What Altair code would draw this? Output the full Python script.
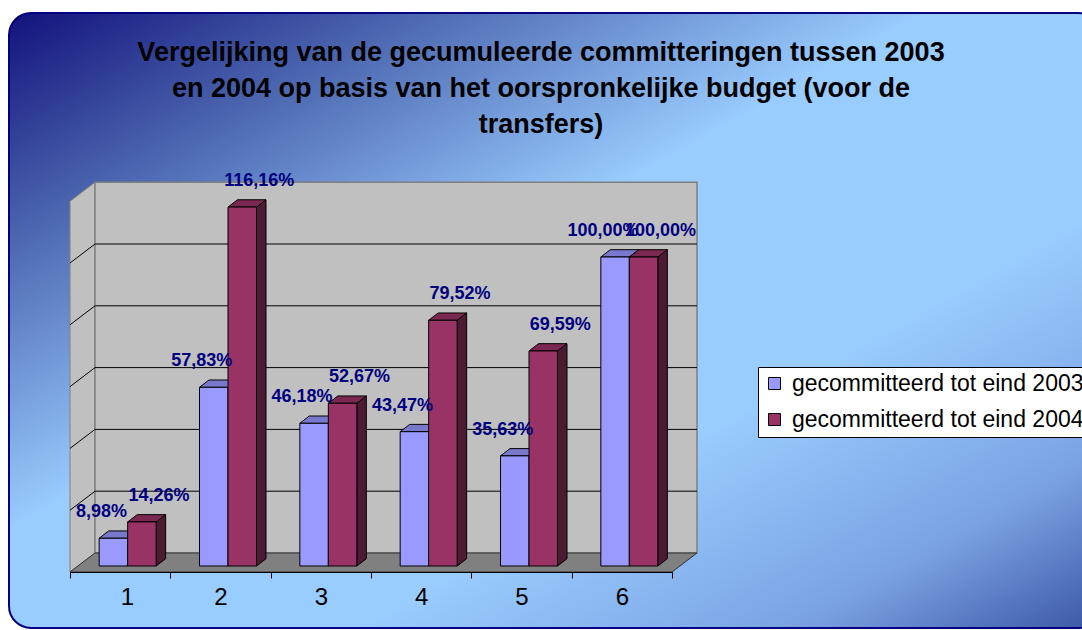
import altair as alt
import pandas as pd

# ---------------- data ----------------
categories = [1, 2, 3, 4, 5, 6]
series_names = ["gecommitteerd tot eind 2003", "gecommitteerd tot eind 2004"]
values_2003 = [8.98, 57.83, 46.18, 43.47, 35.63, 100.00]
values_2004 = [14.26, 116.16, 52.67, 79.52, 69.59, 100.00]
grid_values = [0, 20, 40, 60, 80, 100, 120]
title_lines = [
    "Vergelijking van de gecumuleerde committeringen tussen 2003",
    "en 2004 op basis van het oorspronkelijke budget (voor de",
    "transfers)",
]

# ---------------- styling / geometry (pixels) ----------------
FONT = "Liberation Sans"
PLOT_LEFT, PLOT_TOP, PLOT_W, PLOT_H = 70, 150, 602, 422
CANVAS_W, CANVAS_H = 1082, 630
PX_PER_PCT = 3.09
UX = PLOT_W / len(categories)          # px per category unit
BASE_GAP = 6                            # bar base above front floor edge (px)
DEPTH_X, DEPTH_Y = 25, 19               # floor / wall depth (px)
BAR_DX, BAR_DY = 9.5, 7.3               # bar depth (px)
BAR_W, BAR_START = 28.5, -21            # bar width, offset of first bar from category centre (px)

front_cols = ["#9999ff", "#993366"]
top_cols = ["#7878cc", "#7a2851"]
side_cols = ["#5c5c99", "#4d1a33"]
label_dx = [-12, 17]


def ux(p):
    return p / UX


def uy(p):
    return p / PX_PER_PCT


x_lo = min(categories) - 0.5
x_hi = max(categories) + 0.5
y_lo = -uy(BASE_GAP)
y_hi = y_lo + uy(PLOT_H)
floor_front = y_lo
floor_back = y_lo + uy(DEPTH_Y)
wall_dx = ux(DEPTH_X)
wall_h = max(grid_values)

xs = alt.Scale(domain=[x_lo, x_hi], nice=False, zero=False)
ys = alt.Scale(domain=[y_lo, y_hi], nice=False, zero=False)

tick_vals = [c - 0.5 for c in categories] + [max(categories) + 0.5]
xaxis = alt.Axis(
    values=tick_vals,
    labelExpr=f"datum.value < {max(categories)} ? format(datum.value + 0.5, 'd') : ''",
    labelOffset=UX / 2,
    title=None,
    grid=False,
    domainColor="black",
    tickColor="black",
    tickSize=6,
    labelFont=FONT,
    labelFontSize=24,
    labelColor="black",
    labelPadding=7,
    zindex=2,
)


def X(field="x"):
    return alt.X(f"{field}:Q", scale=xs, axis=xaxis, stack=None)


def Y(field="y"):
    return alt.Y(f"{field}:Q", scale=ys, axis=None, stack=None)


one = pd.DataFrame({"k": [0]})

# ---------------- background ----------------
gradient = {
    "gradient": "linear",
    "x1": 0, "y1": 0, "x2": 1, "y2": 1,
    "stops": [
        {"offset": 0.0, "color": "#12127c"},
        {"offset": 0.18, "color": "#4a64ae"},
        {"offset": 0.42, "color": "#99ccff"},
        {"offset": 0.66, "color": "#99ccff"},
        {"offset": 0.86, "color": "#7aa2e2"},
        {"offset": 1.0, "color": "#3a56a4"},
    ],
}
bg = alt.Chart(one).mark_rect(
    fill=gradient, stroke="#000080", strokeWidth=2, cornerRadius=22
).encode(
    x=alt.value(9 - PLOT_LEFT), x2=alt.value(1100 - PLOT_LEFT),
    y=alt.value(13 - PLOT_TOP), y2=alt.value(628 - PLOT_TOP),
)

# ---------------- walls and floor ----------------
left_wall_df = pd.DataFrame({
    "x": [x_lo, x_lo + wall_dx],
    "y": [floor_front, floor_back],
    "y2": [floor_front + wall_h, floor_back + wall_h],
})
left_wall = alt.Chart(left_wall_df).mark_area(
    fill="#c0c0c0", stroke="#808080", strokeWidth=1, orient="vertical"
).encode(x=X(), y=Y(), y2="y2:Q")

back_wall_df = pd.DataFrame({
    "x": [x_lo + wall_dx], "x2": [x_hi + wall_dx],
    "y": [floor_back], "y2": [floor_back + wall_h],
})
back_wall = alt.Chart(back_wall_df).mark_rect(
    fill="#c0c0c0", stroke="#808080", strokeWidth=1.5
).encode(x=X(), x2="x2:Q", y=Y(), y2="y2:Q")

floor_df = pd.DataFrame({
    "y": [floor_front, floor_back],
    "x": [x_lo, x_lo + wall_dx],
    "x2": [x_hi, x_hi + wall_dx],
})
floor = alt.Chart(floor_df).mark_area(
    fill="#808080", stroke="#333333", strokeWidth=1, orient="horizontal"
).encode(y=Y(), x=X(), x2="x2:Q")

inner_grid = [g for g in grid_values if 0 < g < wall_h]
grid_back_df = pd.DataFrame({
    "x": [x_lo + wall_dx] * len(inner_grid),
    "x2": [x_hi + wall_dx] * len(inner_grid),
    "y": [floor_back + g for g in inner_grid],
})
grid_back = alt.Chart(grid_back_df).mark_rule(color="black", strokeWidth=1).encode(
    x=X(), x2="x2:Q", y=Y()
)
grid_left_df = pd.DataFrame({
    "x": [x_lo] * len(inner_grid),
    "x2": [x_lo + wall_dx] * len(inner_grid),
    "y": [floor_front + g for g in inner_grid],
    "y2": [floor_back + g for g in inner_grid],
})
grid_left = alt.Chart(grid_left_df).mark_rule(color="black", strokeWidth=1).encode(
    x=X(), x2="x2:Q", y=Y(), y2="y2:Q"
)

# ---------------- bars ----------------
series_values = [values_2003, values_2004]
front_rows, side_layers, top_layers, label_layers = [], [], [], []
for si, (name, vals) in enumerate(zip(series_names, series_values)):
    side_rows, top_rows, lab_rows = [], [], []
    for c, v in zip(categories, vals):
        L = c + ux(BAR_START + si * BAR_W)
        R = L + ux(BAR_W)
        bid = f"{si}-{c}"
        front_rows.append({"x": L, "x2": R, "y": 0.0, "y2": v, "series": name})
        side_rows += [
            {"x": R, "y": v, "y2": 0.0, "bar": bid},
            {"x": R + ux(BAR_DX), "y": v + uy(BAR_DY), "y2": uy(BAR_DY), "bar": bid},
        ]
        top_rows += [
            {"y": v, "x": L, "x2": R, "bar": bid},
            {"y": v + uy(BAR_DY), "x": L + ux(BAR_DX), "x2": R + ux(BAR_DX), "bar": bid},
        ]
        lab_rows.append({"x": (L + R) / 2, "y": v,
                         "label": f"{v:.2f}".replace(".", ",") + "%"})
    side_layers.append(
        alt.Chart(pd.DataFrame(side_rows)).mark_area(
            fill=side_cols[si], stroke="black", strokeWidth=1, orient="vertical"
        ).encode(x=X(), y=Y(), y2="y2:Q", detail="bar:N")
    )
    top_layers.append(
        alt.Chart(pd.DataFrame(top_rows)).mark_area(
            fill=top_cols[si], stroke="black", strokeWidth=1, orient="horizontal"
        ).encode(y=Y(), x=X(), x2="x2:Q", detail="bar:N")
    )
    label_layers.append(
        alt.Chart(pd.DataFrame(lab_rows)).mark_text(
            font=FONT, fontSize=18, fontWeight="bold", color="#000080",
            dx=label_dx[si], dy=-26, baseline="middle", align="center"
        ).encode(x=X(), y=Y(), text="label:N")
    )

fronts = alt.Chart(pd.DataFrame(front_rows)).mark_rect(
    stroke="black", strokeWidth=1
).encode(
    x=X(), x2="x2:Q", y=Y(), y2="y2:Q",
    fill=alt.Fill(
        "series:N",
        scale=alt.Scale(domain=series_names, range=front_cols),
        legend=alt.Legend(
            orient="none", legendX=758 - PLOT_LEFT, legendY=367 - PLOT_TOP,
            title=None, fillColor="white", strokeColor="black", padding=5,
            cornerRadius=0, symbolType="square", symbolSize=144,
            symbolStrokeColor="black", symbolStrokeWidth=1,
            labelFont=FONT, labelFontSize=23, labelColor="black",
            labelOffset=6, rowPadding=12, labelLimit=500,
        ),
    ),
)

title = alt.Chart(one).mark_text(
    text=title_lines, font=FONT, fontSize=27, fontWeight="bold", color="black",
    lineHeight=36, align="center", baseline="middle"
).encode(x=alt.value(541 - PLOT_LEFT), y=alt.value(53 - PLOT_TOP))

chart = alt.layer(
    bg, left_wall, back_wall, floor, grid_back, grid_left,
    *side_layers, *top_layers, fronts, *label_layers, title,
).properties(
    width=PLOT_W, height=PLOT_H,
    autosize=alt.AutoSizeParams(type="none"),
    padding={"left": PLOT_LEFT, "top": PLOT_TOP,
             "right": CANVAS_W - PLOT_LEFT - PLOT_W,
             "bottom": CANVAS_H - PLOT_TOP - PLOT_H},
).configure(background="white").configure_view(stroke=None)

chart.save("out.html", embed_options={"renderer": "svg", "actions": False})
